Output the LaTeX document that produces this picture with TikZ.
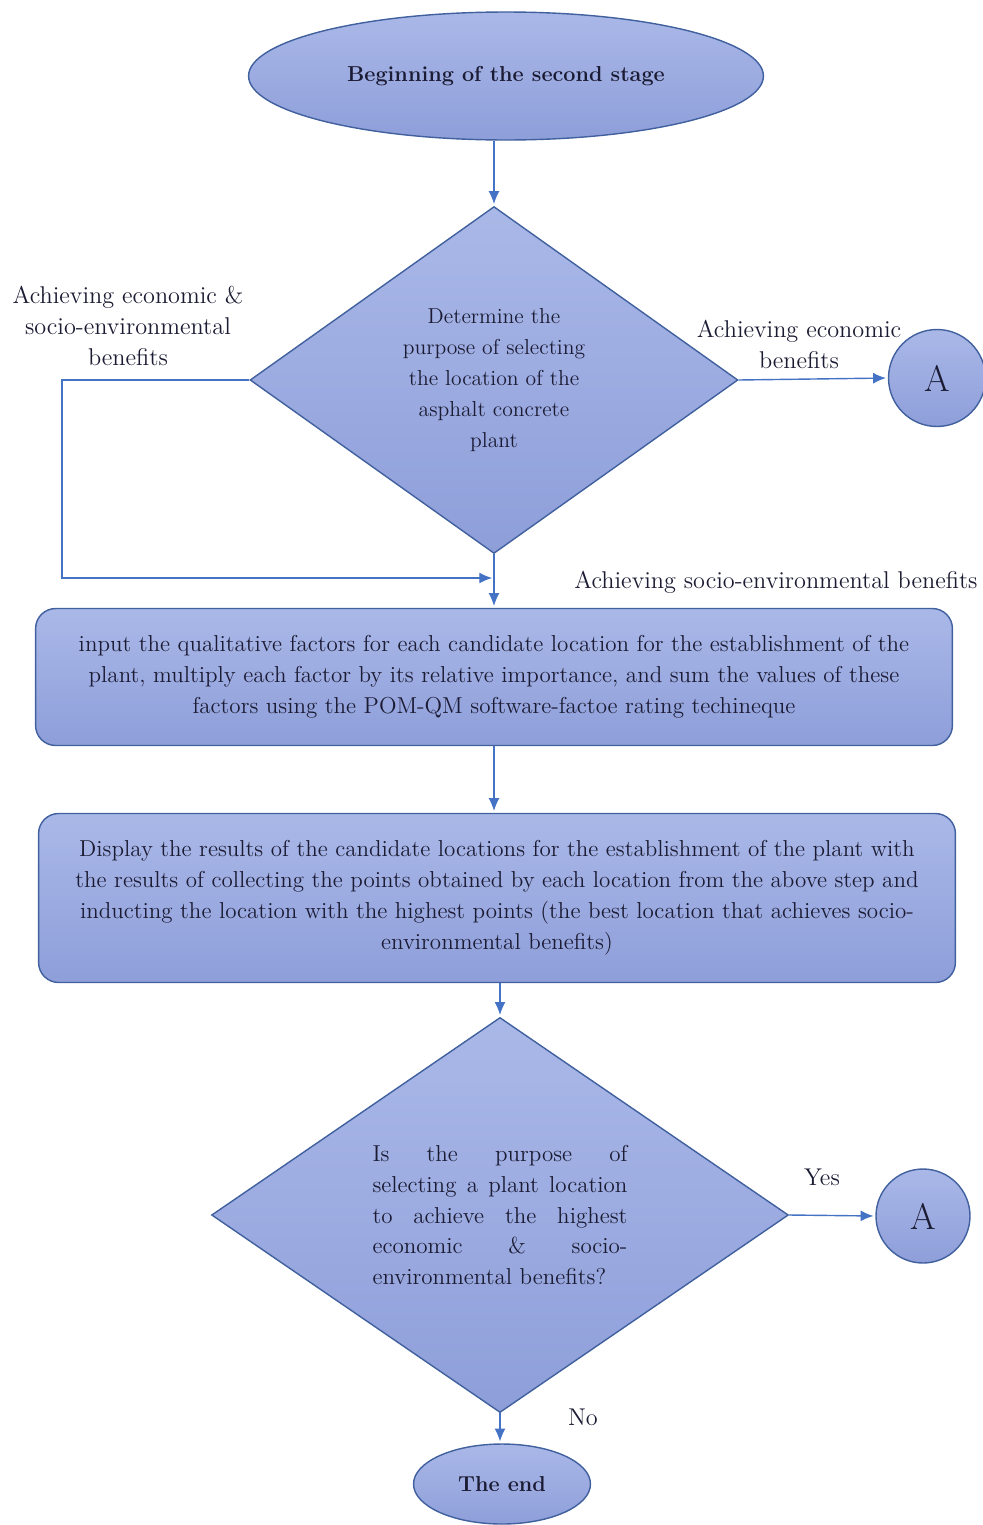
\documentclass[tikz,border=0pt]{standalone}
\usetikzlibrary{arrows,arrows.meta,positioning,shapes,calc}
\definecolor{boxtop}{HTML}{AAB8E8}
\definecolor{boxbot}{HTML}{8E9ED9}
\definecolor{boxline}{HTML}{41609E}
\definecolor{flowline}{HTML}{4472C4}
\definecolor{ink}{HTML}{1B1B33}
\begin{document}
\begin{tikzpicture}[x=0.02cm, y=-0.02cm, shorten >=1pt, >={Latex[length=2.6mm,width=2.2mm]}, line width=0.8pt,
main node/.style={draw=boxline,top color=boxtop,bottom color=boxbot,text=ink,font=\fontsize{12.3}{17.6}\selectfont},
term node/.style={main node,ellipse,inner sep=0pt},
ask node/.style={main node,diamond,inner sep=0pt,align=center},
stage node/.style={main node,rectangle,rounded corners=0.4cm,align=center,inner sep=0pt,minimum width=18.34cm,font=\fontsize{13.1}{17.6}\selectfont},
link node/.style={main node,circle,inner sep=0pt,minimum size=1.94cm,font=\fontsize{21}{22}\selectfont},
note node/.style={text=ink,align=center,font=\fontsize{13.8}{17.6}\selectfont}]%
\useasboundingbox (0,0) rectangle (983,1525);
\begin{scope}
\node[term node,minimum width=10.3cm,minimum height=2.56cm] (start) at (506,76) {\textbf{Beginning of the second stage}};
\node[ask node,minimum width=9.76cm,minimum height=6.94cm] (dec1) at (494,380) {Determine the\\ purpose of selecting\\ the location of the\\ asphalt concrete\\ plant};
\node[link node] (A1) at (937,378) {A};
\node[stage node,minimum height=2.74cm] (box1) at (494,677) {input the qualitative factors for each candidate location for the establishment of the\\ plant, multiply each factor by its relative importance, and sum the values of these\\ factors using the POM-QM software-factoe rating techineque};
\node[stage node,minimum height=3.38cm] (box2) at (497,898) {Display the results of the candidate locations for the establishment of the plant with\\ the results of collecting the points obtained by each location from the above step and\\ inducting the location with the highest points (the best location that achieves socio-\\ environmental benefits)};
\node[ask node,minimum width=11.54cm,minimum height=6.92cm,align=justify,text width=5.1cm,font=\fontsize{13.1}{17.6}\selectfont] (dec2) at (500,1215) {Is the purpose of\linebreak selecting a plant location\linebreak to achieve the highest\linebreak economic \& socio-\linebreak environmental benefits?};
\node[link node,minimum size=1.88cm] (A2) at (923,1216) {A};
\node[term node,minimum width=3.54cm,minimum height=1.6cm] (finish) at (502,1484) {\textbf{The end}};
\end{scope}
\begin{scope}[every node/.style={note node}]
\node (lblboth) at (128,326) {Achieving economic \&\\ socio-environmental\\ benefits};
\node (lbleco) at (799,344) {Achieving economic\\ benefits};
\node (lblsocio) at (776,582) {Achieving socio-environmental benefits};
\node (lblyes) at (822,1177) {Yes};
\node (lblno) at (583,1417) {No};
\end{scope}
\coordinate (bend) at (62,380);
\coordinate (merge) at (494,578);
\begin{scope}[every edge/.style={draw=flowline,->}]
\draw (start.south -| dec1.north) edge (dec1.north);
\draw (dec1.east) edge (A1.west);
\draw (dec1.south) edge (box1.north);
\draw (box1.south) edge (box1.north |- box2.north);
\draw (box2.south -| dec2.north) edge (dec2.north);
\draw (dec2.east) edge (A2.west);
\draw (dec2.south) edge (dec2.south |- finish.north);
\end{scope}
\draw[flowline,->] (dec1.west) -- (bend) |- (merge);
\end{tikzpicture}
\end{document}
